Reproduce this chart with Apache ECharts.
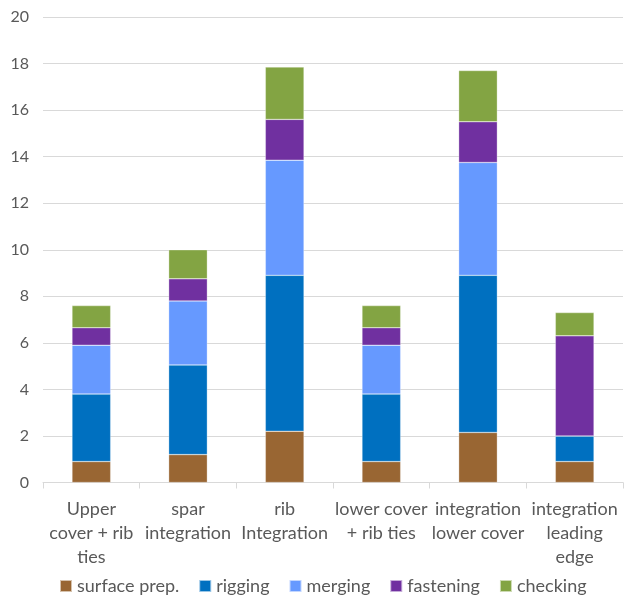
<!DOCTYPE html>
<html>
<head>
<meta charset="utf-8">
<title>Task durations by assembly step</title>
<script src="https://cdn.jsdelivr.net/npm/echarts@6/dist/echarts.min.js"></script>
<style>
  html, body { margin: 0; padding: 0; background: #ffffff; }
  #chart { width: 626px; height: 597px; }
</style>
</head>
<body>
<div id="chart"></div>
<script>
// Assembly steps along the x axis
const categories = [
  'Upper\ncover + rib\nties',
  'spar\nintegration',
  'rib\nIntegration',
  'lower cover\n+ rib ties',
  'integration\nlower cover',
  'integration\nleading\nedge'
];

// Stacked activity durations per step
const surfacePrep = [0.9, 1.2, 2.2, 0.9, 2.15, 0.9];
const rigging     = [2.9, 3.85, 6.7, 2.9, 6.75, 1.1];
const merging     = [2.1, 2.75, 4.95, 2.1, 4.85, 0];
const fastening   = [0.75, 0.95, 1.75, 0.75, 1.75, 4.3];
const checking    = [0.95, 1.25, 2.25, 0.95, 2.2, 1.0];

const seriesNames = ['surface prep.', 'rigging', 'merging', 'fastening', 'checking'];
const seriesData = [surfacePrep, rigging, merging, fastening, checking];
const seriesColors = ['#996633', '#0070C0', '#6699FF', '#7030A0', '#83A443'];

const FONT = 'Lato, "Liberation Sans", sans-serif';
const TEXT_COLOR = '#595959';
const LINE_COLOR = '#D9D9D9';

const chart = echarts.init(document.getElementById('chart'), null, { renderer: 'canvas' });

chart.setOption({
  animation: false,
  backgroundColor: '#ffffff',
  textStyle: { fontFamily: FONT },
  grid: { left: 43, right: 3, top: 17, bottom: 114.5, containLabel: false },
  legend: {
    data: seriesNames,
    left: 59,
    top: 577,
    width: 566,
    padding: 0,
    itemWidth: 12,
    itemHeight: 12,
    itemGap: 19,
    icon: 'rect',
    textStyle: { fontFamily: FONT, fontSize: 18, color: TEXT_COLOR, padding: [0, 0, 0, 0] }
  },
  xAxis: {
    type: 'category',
    data: categories,
    axisLine: { show: true, lineStyle: { color: LINE_COLOR, width: 1 } },
    axisTick: { show: true, length: 6, lineStyle: { color: LINE_COLOR } },
    axisLabel: {
      interval: 0,
      margin: 15,
      fontFamily: FONT,
      fontSize: 18,
      lineHeight: 24,
      color: TEXT_COLOR,
      align: 'center'
    },
    splitLine: { show: false }
  },
  yAxis: {
    type: 'value',
    min: 0,
    max: 20,
    interval: 2,
    axisLine: { show: false },
    axisTick: { show: false },
    axisLabel: { margin: 14, fontFamily: FONT, fontSize: 16, color: TEXT_COLOR },
    splitLine: { show: true, lineStyle: { color: LINE_COLOR, width: 1 } }
  },
  series: seriesNames.map((name, i) => ({
    name: name,
    type: 'bar',
    stack: 'total',
    barWidth: '40%',
    data: seriesData[i],
    itemStyle: { color: seriesColors[i], borderColor: 'rgba(255,255,255,0.6)', borderWidth: 0.5 },
    emphasis: { disabled: true }
  }))
});
</script>
</body>
</html>
